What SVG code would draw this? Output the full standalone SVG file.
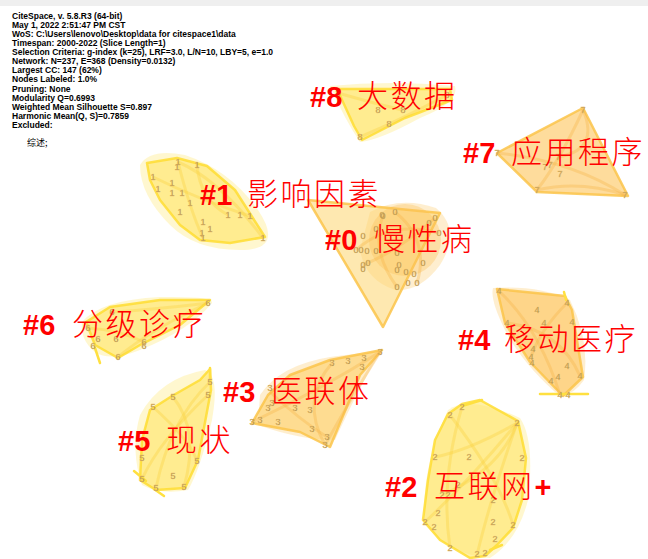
<svg xmlns="http://www.w3.org/2000/svg" width="648" height="559" viewBox="0 0 648 559">
<defs>
<style>
.hdr{font-family:"Liberation Sans",Arial,sans-serif;font-weight:bold;font-size:8.5px;fill:#000}
.zh-s{font-family:"Noto Sans CJK SC",sans-serif;font-size:9px;fill:#000}
.n{font-family:"Liberation Sans",Arial,sans-serif;font-size:9px;fill:#8a7a38;text-anchor:middle;stroke:#f0c070;stroke-width:0.3}
.num{font-family:"Liberation Sans",Arial,sans-serif;font-weight:bold;font-size:29px;fill:#ff0000}
.zh{font-family:"Noto Sans CJK SC",sans-serif;font-weight:300;font-size:31px;fill:#ff0000;letter-spacing:2.5px}
.hy{fill:#ffe45c;fill-opacity:0.55;stroke:#ffdd33;stroke-width:2.5;stroke-opacity:0.85;stroke-linejoin:round}
.ho{fill:#fdc45a;fill-opacity:0.6;stroke:#fbc44a;stroke-width:2.5;stroke-opacity:0.85;stroke-linejoin:round}
.haloy{fill:#fff0a8;fill-opacity:0.55}
.haloo{fill:#fde0a8;fill-opacity:0.55}
.ey{fill:none;stroke:#f8d23c;stroke-width:3;stroke-opacity:0.35}
.eo{fill:none;stroke:#f5b548;stroke-width:3;stroke-opacity:0.35}
.ln{stroke:#ffe040;stroke-width:2.5;stroke-linecap:round}
</style>
</defs>
<rect width="648" height="559" fill="#ffffff"/>
<rect width="648" height="6" fill="#efefef"/>

<g id="header">
<text class="hdr" x="12" y="18.5">CiteSpace, v. 5.8.R3 (64-bit)</text>
<text class="hdr" x="12" y="27.6">May 1, 2022 2:51:47 PM CST</text>
<text class="hdr" x="12" y="36.8">WoS: C:\Users\lenovo\Desktop\data for citespace1\data</text>
<text class="hdr" x="12" y="45.9">Timespan: 2000-2022 (Slice Length=1)</text>
<text class="hdr" x="12" y="55.0">Selection Criteria: g-index (k=25), LRF=3.0, L/N=10, LBY=5, e=1.0</text>
<text class="hdr" x="12" y="64.2">Network: N=237, E=368 (Density=0.0132)</text>
<text class="hdr" x="12" y="73.3">Largest CC: 147 (62%)</text>
<text class="hdr" x="12" y="82.4">Nodes Labeled: 1.0%</text>
<text class="hdr" x="12" y="91.5">Pruning: None</text>
<text class="hdr" x="12" y="100.7">Modularity Q=0.6993</text>
<text class="hdr" x="12" y="109.8">Weighted Mean Silhouette S=0.897</text>
<text class="hdr" x="12" y="118.9">Harmonic Mean(Q, S)=0.7859</text>
<text class="hdr" x="12" y="128.1">Excluded:</text>
<text class="zh-s" x="27" y="146">综述;</text>
</g>

<g id="cluster-0">
<path class="haloo" d="M370,212 Q400,196 436,208 Q462,230 440,265 Q420,292 395,290 Q365,280 360,250 Z"/>
<polygon class="ho" points="308,200 440,213 383,327" style="fill:#fdd570;fill-opacity:0.55"/>
<circle cx="405" cy="240" r="36" fill="#fbbf55" fill-opacity="0.35"/>
</g>
<g id="cluster-1">
<path class="haloy" d="M140,165 Q150,148 185,155 Q230,170 258,210 Q285,250 240,250 Q195,250 170,225 Q140,195 140,165 Z"/>
<polygon class="hy" points="147,163 177,158 207,166 235,190 265,237 230,243 200,240 180,225 160,200 150,180"/>
</g>
<g id="cluster-8">
<path class="haloy" d="M330,86 Q390,80 455,86 Q460,102 420,118 Q380,140 360,142 Q345,120 330,86 Z"/>
<polygon class="hy" points="337,89 450,89 452,100 405,118 362,140 354,126"/>
</g>
<g id="cluster-7">
<polygon class="ho" points="497,153 583,108 628,196 537,192"/>
</g>
<g id="cluster-4">
<path class="haloo" d="M493,288 Q540,285 570,300 Q590,340 584,380 Q570,400 555,392 Q520,360 505,330 Q490,300 493,288 Z"/>
<polygon class="ho" points="497,289 565,296 572,310 583,377 563,396 530,362 505,323"/>
<line class="ln" x1="540" y1="394" x2="588" y2="394"/>
<line class="ln" x1="564" y1="292" x2="566" y2="300"/>
</g>
<g id="cluster-6">
<path class="haloy" d="M82,322 Q100,300 160,297 Q215,296 212,303 Q190,330 140,350 Q110,362 95,352 Q80,340 82,322 Z"/>
<polygon class="hy" points="86,322 110,307 160,300 210,300 180,325 140,345 118,358 95,345"/>
<line class="ln" x1="95" y1="348" x2="100" y2="363"/>
</g>
<g id="cluster-5">
<path class="haloy" d="M205,370 Q220,375 212,420 Q200,470 188,490 Q160,495 142,485 Q130,450 140,415 Q160,378 205,370 Z"/>
<polygon class="hy" points="210,369 211,390 198,460 185,488 156,490 140,480 142,440 150,410 172,396 200,380"/>
<line class="ln" x1="210" y1="368" x2="210" y2="378"/>
<line class="ln" x1="134" y1="471" x2="146" y2="481"/>
<line class="ln" x1="154" y1="489" x2="164" y2="496"/>
</g>
<g id="cluster-3">
<path class="haloo" d="M260,395 Q280,365 330,357 Q370,352 382,350 Q360,385 335,440 Q300,440 258,425 Z"/>
<polygon class="ho" points="382,350 360,375 330,447 300,432 252,423 268,395 290,375 330,360" style="fill:#fed168"/>
</g>
<g id="cluster-2">
<path class="haloy" d="M448,410 Q470,395 520,418 Q535,440 528,500 Q518,540 490,558 Q450,555 425,525 Q420,470 448,410 Z"/>
<polygon class="hy" points="462,404 480,400 518,421 526,458 522,500 513,528 497,545 485,556 470,558 440,540 423,520 428,480 435,440 448,414"/>
<line class="ln" x1="462" y1="406" x2="482" y2="400"/>
<line class="ln" x1="490" y1="550" x2="502" y2="545"/>
</g>

<g id="connectors">
<path class="ey" d="M178,162 Q220,180 263,238"/>
<path class="ey" d="M178,162 Q190,210 203,238"/>
<path class="ey" d="M153,177 Q200,200 250,216"/>
<path class="ey" d="M197,165 Q200,200 228,215"/>
<path class="eo" d="M395,212 Q430,240 417,283"/>
<path class="eo" d="M383,216 Q370,250 397,287"/>
<path class="eo" d="M435,218 Q400,250 363,265"/>
<path class="eo" d="M356,250 Q390,220 439,233"/>
<path class="ey" d="M338,93 Q380,105 403,110"/>
<path class="ey" d="M447,95 Q400,120 360,137"/>
<path class="eo" d="M583,110 Q560,160 537,190"/>
<path class="eo" d="M497,153 Q570,160 625,195"/>
<path class="eo" d="M583,110 Q600,150 558,157"/>
<path class="eo" d="M537,190 Q580,180 625,195"/>
<path class="eo" d="M499,291 Q540,330 560,395"/>
<path class="eo" d="M567,303 Q540,330 531,357"/>
<path class="eo" d="M507,323 Q560,330 580,376"/>
<path class="ey" d="M208,303 Q150,310 112,312"/>
<path class="ey" d="M208,303 Q150,330 118,357"/>
<path class="ey" d="M88,328 Q120,330 144,342"/>
<path class="ey" d="M210,382 Q170,420 156,488"/>
<path class="ey" d="M173,397 Q200,430 184,487"/>
<path class="ey" d="M153,407 Q190,440 197,461"/>
<path class="ey" d="M208,395 Q160,440 142,479"/>
<path class="eo" d="M380,352 Q320,390 252,422"/>
<path class="eo" d="M380,352 Q350,400 325,445"/>
<path class="eo" d="M332,363 Q300,400 325,445"/>
<path class="eo" d="M270,392 Q300,420 327,437"/>
<path class="ey" d="M517,423 Q470,450 435,457"/>
<path class="ey" d="M517,423 Q470,480 425,522"/>
<path class="ey" d="M517,423 Q490,500 477,555"/>
<path class="ey" d="M450,415 Q500,480 513,525"/>
<path class="ey" d="M462,407 Q440,480 450,548"/>
<path class="ey" d="M517,423 Q500,470 442,495"/>
</g>

<g id="nodes-labels">
<g id="n1">
<text class="n" x="178" y="165">1</text><text class="n" x="177" y="170">1</text><text class="n" x="197" y="168">1</text>
<text class="n" x="153" y="180">1</text><text class="n" x="172" y="186">1</text><text class="n" x="158" y="192">1</text>
<text class="n" x="172" y="196">1</text><text class="n" x="182" y="196">1</text><text class="n" x="190" y="206">1</text>
<text class="n" x="180" y="215">1</text><text class="n" x="228" y="218">1</text><text class="n" x="240" y="218">1</text>
<text class="n" x="250" y="219">1</text><text class="n" x="203" y="225">1</text><text class="n" x="210" y="232">1</text>
<text class="n" x="202" y="236">1</text><text class="n" x="203" y="241">1</text><text class="n" x="263" y="241">1</text>
</g>
<g id="n0">
<text class="n" x="395" y="215">0</text><text class="n" x="383" y="219">0</text><text class="n" x="435" y="221">0</text>
<text class="n" x="429" y="226">0</text><text class="n" x="439" y="236">0</text><text class="n" x="376" y="232">0</text>
<text class="n" x="363" y="239">0</text><text class="n" x="356" y="253">0</text><text class="n" x="361" y="253">0</text>
<text class="n" x="367" y="254">0</text><text class="n" x="376" y="254">0</text><text class="n" x="397" y="256">0</text>
<text class="n" x="423" y="266">0</text><text class="n" x="368" y="266">0</text><text class="n" x="363" y="268">0</text>
<text class="n" x="363" y="272">0</text><text class="n" x="399" y="268">0</text><text class="n" x="397" y="273">0</text>
<text class="n" x="406" y="275">0</text><text class="n" x="414" y="277">0</text><text class="n" x="408" y="286">0</text>
<text class="n" x="417" y="286">0</text><text class="n" x="397" y="290">0</text><text class="n" x="382" y="218">0</text>
</g>
<g id="n8">
<text class="n" x="338" y="96">8</text><text class="n" x="378" y="113">8</text><text class="n" x="403" y="113">8</text>
<text class="n" x="447" y="98">8</text><text class="n" x="389" y="127">8</text><text class="n" x="360" y="140">8</text>
</g>
<g id="n7">
<text class="n" x="583" y="113">7</text><text class="n" x="497" y="156">7</text><text class="n" x="558" y="160">7</text>
<text class="n" x="545" y="170">7</text><text class="n" x="550" y="168">7</text><text class="n" x="560" y="177">7</text>
<text class="n" x="537" y="193">7</text><text class="n" x="625" y="198">7</text>
</g>
<g id="n4">
<text class="n" x="499" y="294">4</text><text class="n" x="567" y="306">4</text><text class="n" x="537" y="313">4</text>
<text class="n" x="507" y="326">4</text><text class="n" x="544" y="326">4</text><text class="n" x="572" y="325">4</text>
<text class="n" x="533" y="352">4</text><text class="n" x="531" y="360">4</text><text class="n" x="532" y="366">4</text>
<text class="n" x="567" y="369">4</text><text class="n" x="558" y="380">4</text><text class="n" x="551" y="384">4</text>
<text class="n" x="580" y="379">4</text><text class="n" x="560" y="398">4</text><text class="n" x="568" y="398">4</text>
</g>
<g id="n6">
<text class="n" x="208" y="306">6</text><text class="n" x="112" y="315">6</text><text class="n" x="88" y="331">6</text>
<text class="n" x="98" y="342">6</text><text class="n" x="93" y="349">6</text><text class="n" x="116" y="342">6</text>
<text class="n" x="144" y="345">6</text><text class="n" x="144" y="349">6</text><text class="n" x="118" y="360">6</text>
</g>
<g id="n5">
<text class="n" x="210" y="385">5</text><text class="n" x="208" y="398">5</text><text class="n" x="173" y="400">5</text>
<text class="n" x="153" y="410">5</text><text class="n" x="142" y="461">5</text><text class="n" x="197" y="464">5</text>
<text class="n" x="173" y="479">5</text><text class="n" x="142" y="482">5</text><text class="n" x="156" y="491">5</text>
<text class="n" x="184" y="490">5</text>
</g>
<g id="n3">
<text class="n" x="380" y="355">3</text><text class="n" x="364" y="361">3</text><text class="n" x="348" y="364">3</text>
<text class="n" x="332" y="366">3</text><text class="n" x="362" y="370">3</text><text class="n" x="270" y="391">3</text>
<text class="n" x="272" y="406">3</text><text class="n" x="268" y="411">3</text><text class="n" x="295" y="411">3</text>
<text class="n" x="310" y="413">3</text><text class="n" x="252" y="425">3</text><text class="n" x="260" y="423">3</text>
<text class="n" x="278" y="425">3</text><text class="n" x="312" y="432">3</text><text class="n" x="327" y="440">3</text>
<text class="n" x="325" y="448">3</text>
</g>
<g id="n2">
<text class="n" x="462" y="410">2</text><text class="n" x="450" y="418">2</text><text class="n" x="517" y="426">2</text>
<text class="n" x="435" y="460">2</text><text class="n" x="469" y="460">2</text><text class="n" x="522" y="461">2</text>
<text class="n" x="458" y="488">2</text><text class="n" x="442" y="498">2</text><text class="n" x="448" y="498">2</text>
<text class="n" x="493" y="503">2</text><text class="n" x="438" y="516">2</text><text class="n" x="493" y="525">2</text>
<text class="n" x="513" y="528">2</text><text class="n" x="425" y="525">2</text><text class="n" x="434" y="530">2</text>
<text class="n" x="495" y="542">2</text><text class="n" x="450" y="551">2</text><text class="n" x="477" y="557">2</text>
<text class="n" x="485" y="556">2</text>
</g>
</g>

<g id="labels">
<g id="label-8"><text class="num" x="310" y="107">#8</text><text class="zh" x="357" y="107">大数据</text></g>
<g id="label-7"><text class="num" x="463" y="163">#7</text><text class="zh" x="511" y="163">应用程序</text></g>
<g id="label-1"><text class="num" x="200" y="205">#1</text><text class="zh" x="247" y="205">影响因素</text></g>
<g id="label-0"><text class="num" x="325" y="250">#0</text><text class="zh" x="374" y="250">慢性病</text></g>
<g id="label-6"><text class="num" x="23" y="335">#6</text><text class="zh" x="72" y="335">分级诊疗</text></g>
<g id="label-4"><text class="num" x="458" y="350">#4</text><text class="zh" x="504" y="350">移动医疗</text></g>
<g id="label-3"><text class="num" x="223" y="402">#3</text><text class="zh" x="271" y="402">医联体</text></g>
<g id="label-5"><text class="num" x="118" y="451">#5</text><text class="zh" x="166" y="451">现状</text></g>
<g id="label-2"><text class="num" x="385" y="497">#2</text><text class="zh" x="434" y="497">互联网<tspan class="num" style="letter-spacing:0">+</tspan></text></g>
</g>
</svg>
